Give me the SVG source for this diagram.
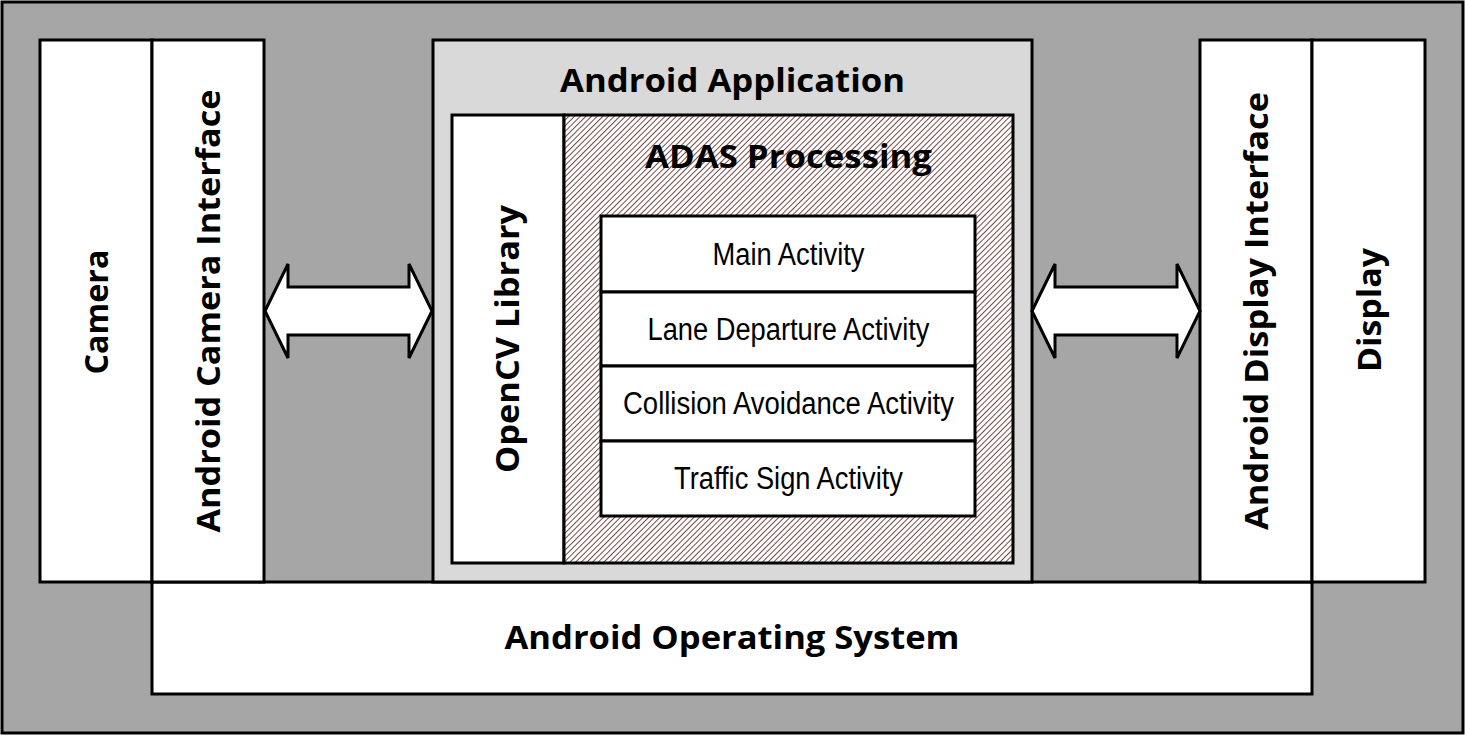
<svg xmlns="http://www.w3.org/2000/svg" width="1465" height="735" viewBox="0 0 1465 735">
<defs>
<style>
.box{fill:#fff;stroke:#000;stroke-width:3}
.bt{font-family:"Open Sans","DejaVu Sans",sans-serif;font-weight:bold;font-size:33px;fill:#000;text-anchor:middle}
.nt{font-family:"Liberation Sans",Arial,sans-serif;font-size:31px;fill:#000;text-anchor:middle}
.arr{fill:#fff;stroke:#000;stroke-width:3;stroke-linejoin:miter}
</style>
<pattern id="hatch" width="4" height="4" patternUnits="userSpaceOnUse" patternTransform="rotate(45)">
<rect width="4" height="4" fill="#fff"/>
<line x1="0" y1="0" x2="0" y2="4" stroke="#704040" stroke-width="1.9"/>
</pattern>
</defs>
<rect id="frame" x="2" y="2" width="1461" height="731" fill="#a6a6a6" stroke="#000" stroke-width="3"/>
<g id="os"><rect class="box" x="152" y="582" width="1160" height="112"/><text class="bt" x="732" y="649" textLength="455" lengthAdjust="spacingAndGlyphs">Android Operating System</text></g>
<g id="camera"><rect class="box" x="40" y="40" width="112" height="542"/><text class="bt" transform="translate(108,312) rotate(-90)" textLength="125" lengthAdjust="spacingAndGlyphs">Camera</text></g>
<g id="camera-interface"><rect class="box" x="152" y="40" width="112" height="542"/><text class="bt" transform="translate(220,311) rotate(-90)" textLength="443" lengthAdjust="spacingAndGlyphs">Android Camera Interface</text></g>
<g id="display-interface"><rect class="box" x="1200" y="40" width="112" height="542"/><text class="bt" transform="translate(1268,311) rotate(-90)" textLength="438" lengthAdjust="spacingAndGlyphs">Android Display Interface</text></g>
<g id="display"><rect class="box" x="1312" y="40" width="113" height="542"/><text class="bt" transform="translate(1381,310) rotate(-90)" textLength="124" lengthAdjust="spacingAndGlyphs">Display</text></g>
<g id="android-app"><rect x="433" y="40" width="599" height="542" fill="#d9d9d9" stroke="#000" stroke-width="3"/><text class="bt" x="732.5" y="92" textLength="345" lengthAdjust="spacingAndGlyphs">Android Application</text></g>
<g id="opencv"><rect class="box" x="452" y="115" width="112" height="448"/><text class="bt" transform="translate(519,339) rotate(-90)" textLength="268" lengthAdjust="spacingAndGlyphs">OpenCV Library</text></g>
<g id="adas"><rect x="564" y="115" width="449" height="448" fill="url(#hatch)" stroke="#000" stroke-width="3"/><text class="bt" x="788.5" y="168" textLength="287" lengthAdjust="spacingAndGlyphs">ADAS Processing</text></g>
<g id="main-activity"><rect class="box" x="601" y="216" width="374" height="76"/><text class="nt" x="788.5" y="265" textLength="152" lengthAdjust="spacingAndGlyphs">Main Activity</text></g>
<g id="lane-activity"><rect class="box" x="601" y="292" width="374" height="74"/><text class="nt" x="788.5" y="340" textLength="282" lengthAdjust="spacingAndGlyphs">Lane Departure Activity</text></g>
<g id="collision-activity"><rect class="box" x="601" y="366" width="374" height="75"/><text class="nt" x="788.5" y="414" textLength="331" lengthAdjust="spacingAndGlyphs">Collision Avoidance Activity</text></g>
<g id="traffic-activity"><rect class="box" x="601" y="441" width="374" height="75"/><text class="nt" x="788.5" y="489" textLength="229" lengthAdjust="spacingAndGlyphs">Traffic Sign Activity</text></g>
<g id="connectors">
<polygon class="arr" points="265,311 288,264 288,287 409,287 409,264 432,311 409,358 409,335 288,335 288,358"/>
<polygon class="arr" points="1032,311 1055,264 1055,287 1177,287 1177,264 1200,311 1177,358 1177,335 1055,335 1055,358"/>
</g>
</svg>
